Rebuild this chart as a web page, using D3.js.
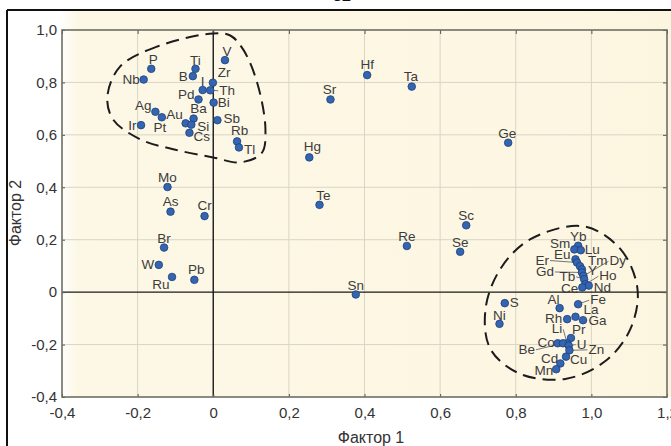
<!DOCTYPE html>
<html>
<head>
<meta charset="utf-8">
<script src="https://cdn.jsdelivr.net/npm/d3@7"></script>
<style>
  body { margin: 0; background: #fff; }
  text { font-family: Arial, "Liberation Sans", sans-serif; }
</style>
</head>
<body>
<script>
// Element names and factor loadings
var elements = ["P", "Nb", "Ti", "B", "V", "Zr", "I", "Th", "Pd", "Bi", "Ag", "Pt", "Au", "Ba", "Si", "Cs", "Ir", "Sb", "Rb", "Tl",
  "Sr", "Hg", "Te", "Mo", "As", "Cr", "Hf", "Ta", "Ge", "Sc", "Br", "W", "Ru", "Pb", "Re", "Se", "Sn", "S", "Ni",
  "Yb", "Sm", "Lu", "Eu", "Er", "Tm", "Y", "Gd", "Dy", "Tb", "Ho", "Nd", "Ce",
  "Al", "Fe", "Rh", "La", "Ga", "Pr", "Li", "Co", "Be", "U", "Zn", "Cu", "Cd", "Mn"];
var factor1 = [-0.164, -0.184, -0.047, -0.054, 0.031, -0.001, -0.028, -0.008, -0.039, 0.001, -0.153, -0.136, -0.073, -0.052, -0.058, -0.063, -0.191, 0.011, 0.063, 0.068,
  0.310, 0.254, 0.281, -0.121, -0.113, -0.023, 0.407, 0.525, 0.780, 0.669, -0.130, -0.144, -0.109, -0.050, 0.512, 0.653, 0.377, 0.771, 0.757,
  0.965, 0.955, 0.972, 0.958, 0.962, 0.970, 0.975, 0.975, 0.979, 0.981, 0.984, 0.993, 0.976,
  0.916, 0.965, 0.936, 0.958, 0.978, 0.946, 0.936, 0.911, 0.925, 0.940, 0.942, 0.933, 0.918, 0.907];
var factor2 = [0.852, 0.811, 0.852, 0.824, 0.885, 0.799, 0.771, 0.770, 0.735, 0.723, 0.688, 0.667, 0.644, 0.662, 0.639, 0.608, 0.637, 0.656, 0.575, 0.552,
  0.735, 0.514, 0.333, 0.401, 0.307, 0.290, 0.828, 0.784, 0.570, 0.255, 0.170, 0.104, 0.058, 0.047, 0.176, 0.154, -0.009, -0.042, -0.121,
  0.177, 0.163, 0.160, 0.125, 0.113, 0.099, 0.087, 0.075, 0.062, 0.049, 0.030, 0.025, 0.018,
  -0.061, -0.046, -0.103, -0.094, -0.107, -0.175, -0.195, -0.195, -0.195, -0.204, -0.222, -0.246, -0.272, -0.294];

// tick values
var xTicks = [-0.4, -0.2, 0, 0.2, 0.4, 0.6, 0.8, 1.0, 1.2];
var yTicks = [-0.4, -0.2, 0, 0.2, 0.4, 0.6, 0.8, 1.0];

// outlines of the two groups (factor units)
var group1 = [[0, 0.987], [-0.148, 0.937], [-0.246, 0.861], [-0.280, 0.747], [-0.265, 0.659], [-0.193, 0.583], [-0.106, 0.545],
  [0, 0.514], [0.071, 0.495], [0.128, 0.530], [0.138, 0.621], [0.116, 0.800], [0.079, 0.926], [0.045, 0.979]];
var group2 = [[0.979, 0.251], [1.077, 0.164], [1.122, 0.011], [1.103, -0.141], [1.037, -0.263], [0.931, -0.331], [0.812, -0.312],
  [0.733, -0.217], [0.720, -0.065], [0.759, 0.088], [0.839, 0.202]];

// label placement: dx, dy (px from the dot), anchor, leader line
var labelPos = {
  P: [2, -5, "middle"], Nb: [-4, 4, "end"], Ti: [0, -4, "middle"], B: [-5, 4.5, "end"], V: [2, -4.5, "middle"],
  Zr: [5, -5.5, "start"], I: [0, -4.5, "middle"], Th: [9, 4.5, "start", 1], Pd: [-4, 0, "end"], Bi: [4, 4.5, "start"],
  Ag: [-4, -2, "end"], Pt: [-2, 15, "middle"], Au: [-3, -4, "end"], Ba: [5, -5.5, "middle"], Si: [6, 6, "start"],
  Cs: [4, 8.5, "start"], Ir: [-4.5, 4.5, "end"], Sb: [6, 3, "start"], Rb: [2.5, -6, "middle"], Tl: [5, 6.5, "start"],
  Sr: [-1, -5.5, "middle"], Hg: [3, -6, "middle"], Te: [4, -4.5, "middle"], Mo: [0, -5, "middle"], As: [0, -6, "middle"],
  Cr: [0, -6, "middle"], Hf: [0, -6, "middle"], Ta: [-1, -5.5, "middle"], Ge: [-1, -5, "middle"], Sc: [0, -5, "middle"],
  Br: [0, -5, "middle"], W: [-4.5, 4.5, "end"], Ru: [-2.5, 12, "end"], Pb: [2, -5.5, "middle"], Re: [0, -5, "middle"],
  Se: [0, -5, "middle"], Sn: [0, -5, "middle"], S: [5, 4, "start"], Ni: [0, -4, "middle"],
  Yb: [0, -5, "middle"], Sm: [-4, -1.5, "end"], Lu: [4, 4, "start"], Eu: [-5, -0.5, "end"], Er: [-28, 2, "end", 1],
  Tm: [8, -1, "start"], Dy: [26, -10.5, "start", 1], Gd: [-28, 3.5, "end", 1], Y: [6, 6, "start"], Tb: [-9, 1.5, "end", 1],
  Ho: [14, -4, "start", 1], Ce: [-4, 6, "end"], Nd: [5, 6, "start"],
  Al: [-6, -4.5, "middle"], Fe: [12, 0, "start", 1], La: [8, -3, "start"], Rh: [-5, 3.5, "end"], Ga: [5.5, 5, "start"],
  Li: [-5, -10, "end", 1], Pr: [1, -4.5, "start"], Co: [-3, 4, "end"], Be: [-28, 10.5, "end", 1], U: [8, 3, "start", 1],
  Zn: [19, 3.5, "start", 1], Cu: [4, 7, "start"], Cd: [-2, -0.5, "end"], Mn: [-3, 6, "end"]
};

var width = 671, height = 446;
var plot = { left: 62, right: 667, top: 30, bottom: 397 };

var svg = d3.select("body").append("svg")
  .attr("width", width)
  .attr("height", height);

// background gradient (white strip at left, cream elsewhere)
var defs = svg.append("defs");
var grad = defs.append("linearGradient").attr("id", "bg")
  .attr("x1", 0).attr("x2", 1).attr("y1", 0).attr("y2", 0);
grad.append("stop").attr("offset", "0").attr("stop-color", "#fefefb");
grad.append("stop").attr("offset", "0.025").attr("stop-color", "#fdf8e6");
grad.append("stop").attr("offset", "1").attr("stop-color", "#fcf6e1");

svg.append("rect").attr("x", 62).attr("y", 11).attr("width", width - 62).attr("height", plot.bottom - 11)
  .attr("fill", "url(#bg)");

// page number cut off at top
svg.append("text").attr("x", 342).attr("y", 1).attr("text-anchor", "middle")
  .style("font-size", "16px").style("font-weight", "bold").attr("fill", "#111").text("32");

// outer frame
svg.append("line").attr("x1", 7).attr("x2", width).attr("y1", 10).attr("y2", 10)
  .attr("stroke", "#111").attr("stroke-width", 2);
svg.append("line").attr("x1", 7).attr("x2", 7).attr("y1", 10).attr("y2", height)
  .attr("stroke", "#111").attr("stroke-width", 2);

var x = d3.scaleLinear().domain([-0.4, 1.2]).range([plot.left, plot.right]);
var y = d3.scaleLinear().domain([-0.4, 1.0]).range([plot.bottom, plot.top]);

var fmt = function(d) { return d === 0 ? "0" : d3.format(".1f")(d).replace(".", ",").replace("−", "-"); };

// grid
var grid = svg.append("g");
grid.selectAll(".gx").data(xTicks.slice(1, -1).filter(d => d !== 0)).enter().append("line")
  .attr("x1", d => x(d)).attr("x2", d => x(d)).attr("y1", plot.top).attr("y2", plot.bottom)
  .attr("stroke", "#d9d5c5").attr("stroke-width", 1);
grid.selectAll(".gy").data(yTicks.slice(1, -1).filter(d => d !== 0)).enter().append("line")
  .attr("x1", plot.left).attr("x2", plot.right).attr("y1", d => y(d)).attr("y2", d => y(d))
  .attr("stroke", "#d9d5c5").attr("stroke-width", 1);

// zero lines
svg.append("line").attr("x1", x(0)).attr("x2", x(0)).attr("y1", plot.top).attr("y2", plot.bottom)
  .attr("stroke", "#1a1a1a").attr("stroke-width", 1.4);
svg.append("line").attr("x1", plot.left).attr("x2", plot.right).attr("y1", y(0)).attr("y2", y(0))
  .attr("stroke", "#1a1a1a").attr("stroke-width", 1.4);

// axes (inner ticks)
var axStyle = function(g) {
  g.select(".domain").remove();
  g.selectAll(".tick line").attr("stroke", "#555");
  g.selectAll(".tick text").attr("fill", "#333").style("font-size", "15px").style("font-family", "Arial, 'Liberation Sans', sans-serif");
};
svg.append("g").attr("transform", `translate(0,${plot.bottom})`)
  .call(d3.axisBottom(x).tickValues(xTicks).tickFormat(fmt).tickSizeInner(-3).tickSizeOuter(0).tickPadding(10))
  .call(axStyle);
svg.append("g").attr("transform", `translate(${plot.left},0)`)
  .call(d3.axisLeft(y).tickValues(yTicks).tickFormat(fmt).tickSizeInner(-3).tickSizeOuter(0).tickPadding(5))
  .call(axStyle);
svg.append("g").attr("transform", `translate(0,${plot.top})`)
  .call(d3.axisTop(x).tickValues(xTicks).tickFormat("").tickSizeInner(-4).tickSizeOuter(0))
  .call(axStyle);
svg.append("g").attr("transform", `translate(${plot.right},0)`)
  .call(d3.axisRight(y).tickValues(yTicks).tickFormat("").tickSizeInner(-4).tickSizeOuter(0))
  .call(axStyle);

// plot frame
svg.append("rect").attr("x", plot.left).attr("y", plot.top)
  .attr("width", plot.right - plot.left).attr("height", plot.bottom - plot.top)
  .attr("fill", "none").attr("stroke", "#6e6e64").attr("stroke-width", 1.6);

// axis titles
svg.append("text").attr("x", 371).attr("y", 443).attr("text-anchor", "middle")
  .attr("fill", "#333").style("font-size", "16px").text("Фактор 1");
svg.append("text").attr("transform", "translate(21,213) rotate(-90)").attr("text-anchor", "middle")
  .attr("fill", "#333").style("font-size", "16px").text("Фактор 2");

// dashed outlines
var outline = d3.line().x(d => x(d[0])).y(d => y(d[1])).curve(d3.curveCatmullRomClosed.alpha(0.5));
svg.selectAll(".grp").data([group1, group2]).enter().append("path")
  .attr("d", outline)
  .attr("fill", "none").attr("stroke", "#1c1c1c").attr("stroke-width", 2)
  .attr("stroke-dasharray", "13,7");

var points = elements.map((e, i) => ({ name: e, f1: factor1[i], f2: factor2[i] }));

// leader lines
svg.selectAll(".leader").data(points.filter(d => labelPos[d.name][3])).enter().append("line")
  .attr("x1", d => x(d.f1)).attr("y1", d => y(d.f2))
  .attr("x2", d => x(d.f1) + labelPos[d.name][0] + (labelPos[d.name][2] === "end" ? 1 : -1))
  .attr("y2", d => y(d.f2) + labelPos[d.name][1] - 4)
  .attr("stroke", "#666").attr("stroke-width", 0.9);

// labels
svg.selectAll(".lbl").data(points).enter().append("text")
  .attr("x", d => x(d.f1) + labelPos[d.name][0])
  .attr("y", d => y(d.f2) + labelPos[d.name][1])
  .attr("text-anchor", d => labelPos[d.name][2])
  .attr("fill", "#3c3c3c")
  .style("font-size", "13.5px")
  .text(d => d.name);

// points
svg.selectAll("circle").data(points).enter().append("circle")
  .attr("cx", d => x(d.f1))
  .attr("cy", d => y(d.f2))
  .attr("r", 3.8)
  .attr("fill", "#3465b0")
  .attr("stroke", "#1e3f7c")
  .attr("stroke-width", 0.8);
</script>
</body>
</html>
